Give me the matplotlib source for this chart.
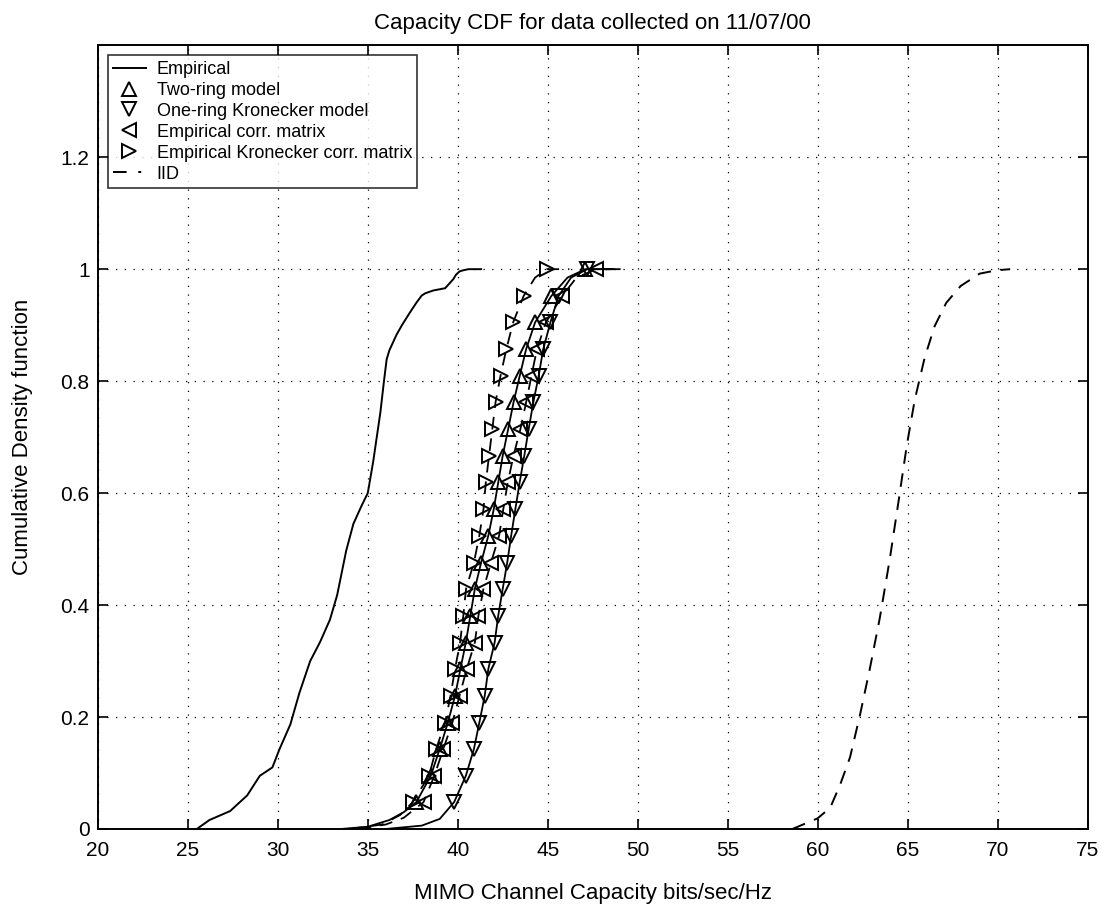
"""Capacity CDF comparison of MIMO channel models (MATLAB-style figure)."""

import matplotlib
matplotlib.use("agg")
import matplotlib.pyplot as plt
from matplotlib.lines import Line2D

# --- data ------------------------------------------------------------------

# Empirical capacity CDF (measured data)
emp_x = [25.5, 26.2, 27.35, 28.3, 29.0, 29.7, 30.1, 30.7, 31.2, 31.8, 32.35,
         32.9, 33.3, 33.8, 34.2, 34.65, 35.0, 35.3, 35.5, 35.7, 35.9, 36.05,
         36.2, 36.6, 36.9, 37.35, 37.7, 38.0, 38.2, 38.65, 39.3, 39.75, 39.9,
         40.1, 40.3, 40.6, 41.3]
emp_y = [0.0, 0.016, 0.032, 0.06, 0.095, 0.11, 0.143, 0.187, 0.243, 0.30, 0.334,
         0.374, 0.418, 0.497, 0.545, 0.577, 0.60, 0.656, 0.70, 0.744, 0.80, 0.839,
         0.855, 0.883, 0.90, 0.923, 0.94, 0.953, 0.957, 0.962, 0.966, 0.982, 0.99,
         0.996, 0.998, 1.0, 1.0]

# IID channel CDF
iid_x = [58.6, 60.0, 60.7, 61.25, 61.8, 62.35, 62.9, 63.45, 64.0, 64.5, 64.95,
         65.4, 65.95, 66.5, 67.15, 67.95, 69.0, 69.95, 70.7]
iid_y = [0.0, 0.019, 0.038, 0.079, 0.128, 0.203, 0.286, 0.376, 0.48, 0.586, 0.684,
         0.767, 0.842, 0.898, 0.94, 0.97, 0.992, 0.998, 1.0]

# probability levels where the model markers sit
levels = [0.048, 0.095, 0.143, 0.190, 0.238, 0.286, 0.333, 0.381, 0.429, 0.476,
          0.524, 0.571, 0.619, 0.667, 0.714, 0.762, 0.810, 0.857, 0.905, 0.952, 1.0]

two_ring_x = [37.7, 38.5, 39.0, 39.45, 39.85, 40.15, 40.45, 40.7, 40.95, 41.3,
              41.7, 42.0, 42.25, 42.5, 42.8, 43.1, 43.45, 43.8, 44.3, 45.2, 47.1]
one_ring_x = [39.8, 40.45, 40.9, 41.2, 41.5, 41.7, 42.05, 42.25, 42.5, 42.75,
              42.97, 43.2, 43.44, 43.7, 43.94, 44.2, 44.5, 44.75, 45.15, 45.6, 47.2]
emp_corr_x = [38.1, 38.7, 39.2, 39.7, 40.1, 40.5, 40.95, 41.15, 41.43, 41.85,
              42.3, 42.53, 42.78, 43.1, 43.48, 43.8, 44.1, 44.4, 44.9, 45.8, 47.7]
kron_x = [37.5, 38.4, 38.8, 39.3, 39.6, 39.85, 40.13, 40.31, 40.46, 40.9,
          41.2, 41.43, 41.56, 41.74, 41.92, 42.1, 42.38, 42.7, 43.08, 43.66, 44.95]

# lower tails (x, y) and upper tails of each model curve
two_ring_low = ([33.5, 35.0, 36.2, 37.0], [0.0, 0.004, 0.016, 0.03])
two_ring_high = ([46.1, 47.1, 48.5], [0.985, 1.0, 1.0])
one_ring_low = ([36.0, 38.0, 39.0], [0.0, 0.006, 0.018])
one_ring_high = ([46.3, 47.2, 49.0], [0.985, 1.0, 1.0])
emp_corr_low = ([34.5, 36.0, 37.0], [0.0, 0.008, 0.02])
emp_corr_high = ([46.6, 47.7, 49.2], [0.985, 1.0, 1.0])
kron_low = ([34.0, 35.8, 36.8], [0.0, 0.008, 0.025])
kron_high = ([44.3, 44.95, 46.2], [0.985, 1.0, 1.0])

x_ticks = [20, 25, 30, 35, 40, 45, 50, 55, 60, 65, 70, 75]
y_ticks = [0, 0.2, 0.4, 0.6, 0.8, 1.0, 1.2]
y_tick_labels = ["0", "0.2", "0.4", "0.6", "0.8", "1", "1.2"]

plt.rcParams["font.family"] = ["Liberation Sans", "DejaVu Sans"]

fig = plt.figure(figsize=(11.12, 9.05), dpi=100)
ax = fig.add_axes([0.088, 0.084, 0.890, 0.866])

ax.plot(emp_x, emp_y, "k-", lw=1.4)
ax.plot(iid_x, iid_y, "k--", lw=1.4, dashes=(7, 5))


def model_curve(low, xs, high, style):
    lx = low[0] + xs[:-1] + high[0]
    ly = low[1] + levels[:-1] + high[1]
    if style == "solid":
        ax.plot(lx, ly, "k-", lw=1.3)
    else:
        ax.plot(lx, ly, "k--", lw=1.3, dashes=(7, 5))


model_curve(two_ring_low, two_ring_x, two_ring_high, "solid")
model_curve(one_ring_low, one_ring_x, one_ring_high, "solid")
model_curve(emp_corr_low, emp_corr_x, emp_corr_high, "dash")
model_curve(kron_low, kron_x, kron_high, "dash")

mk = dict(ls="none", mfc="none", mec="k", mew=1.4, ms=10)
ax.plot(two_ring_x, levels, marker="^", **mk)
ax.plot(one_ring_x, levels, marker="v", **mk)
ax.plot(emp_corr_x, levels, marker="<", **mk)
ax.plot(kron_x, levels, marker=">", **mk)

ax.set_xlim(20, 75)
ax.set_ylim(0, 1.4)
ax.set_xticks(x_ticks)
ax.set_yticks(y_ticks)
ax.set_yticklabels(y_tick_labels)
ax.grid(True, color="k", linestyle=(0, (1, 6)), lw=0.9)
ax.tick_params(direction="in", top=True, right=True, length=7, width=1.2,
               labelsize=15, pad=9)
ax.tick_params(axis="y", pad=6)
for s in ax.spines.values():
    s.set_linewidth(1.4)

ax.set_title("Capacity CDF for data collected on 11/07/00", fontsize=16, pad=12)
ax.set_xlabel("MIMO Channel Capacity bits/sec/Hz", fontsize=16, labelpad=16)
ax.set_ylabel("Cumulative Density function", fontsize=16, labelpad=20)

handles = [
    Line2D([], [], color="k", lw=1.4),
    Line2D([], [], marker="^", **mk),
    Line2D([], [], marker="v", **mk),
    Line2D([], [], marker="<", **mk),
    Line2D([], [], marker=">", **mk),
    Line2D([], [], color="k", lw=1.4, ls=(0, (7, 6, 1.5, 20))),
]
labels = ["Empirical", "Two-ring model", "One-ring Kronecker model",
          "Empirical corr. matrix", "Empirical Kronecker corr. matrix", "IID"]
leg = ax.legend(handles, labels, loc="upper left", bbox_to_anchor=(0.01, 0.987),
                borderaxespad=0, fontsize=13, frameon=True, fancybox=False,
                handlelength=1.8, handletextpad=0.6, labelspacing=0.22,
                borderpad=0.3)
leg.get_frame().set_edgecolor("k")
leg.get_frame().set_linewidth(1.2)

fig.savefig("out.png", dpi=100)
